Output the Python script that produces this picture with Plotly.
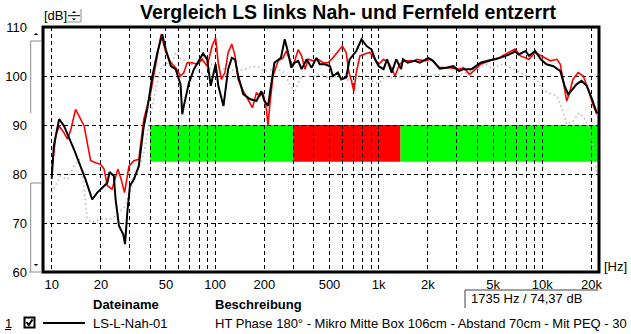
import numpy as np
import plotly.graph_objects as go

# --- measured responses -------------------------------------------------
# LS-L-Nah-01 (black)
nah_freq = [10, 10.3, 11.1, 11.9, 13.7, 15.0, 16.1, 17.7, 19.0, 20.4, 21.9, 22.6, 24.0, 24.6,
            25.8, 27.4, 28.1, 29.0, 30.1, 31.8, 34.1, 36.6, 38.4, 41.3, 44.3, 47.4, 49.9,
            53.6, 57.3, 61.4, 62.9, 64.3, 69.1, 74.1, 81.4, 84.3, 89.3, 93.9, 100.6, 104.5,
            112.4, 120, 126.4, 132.2, 138.2, 148.5, 162.9, 178.7, 191.6, 200.2, 210.4, 217.1,
            230.2, 252.3, 266.2, 279.1, 292.3, 305.3, 322.1, 337.8, 362, 388.6, 416.2, 435.9,
            468, 504, 524, 563, 590, 632, 664, 729, 785, 843, 904, 950, 1000, 1070, 1125,
            1200, 1280, 1370, 1407, 1503, 1660, 1786, 2010, 2150, 2357, 2602, 2860, 3100,
            3300, 3700, 4200, 4780, 5500, 6200, 6820, 7170, 7900, 8300, 9050, 9800, 10600,
            11700, 12900, 13700, 14400, 15000, 16200, 17400, 18700, 20000, 21600]
nah_db = [79.0, 85.7, 91.2, 89.8, 85.0, 81.6, 78.9, 74.8, 76.2, 77.2, 78.2, 80.4, 79.6, 74.8,
          69.4, 67.7, 65.7, 72.1, 77.6, 78.9, 81.6, 89.8, 93.2, 100.0, 104.8, 108.5, 105.4,
          102.0, 101.4, 98.3, 92.2, 93.9, 98.6, 101.4, 103.7, 104.6, 103.4, 98.0, 102.4, 98.0,
          93.9, 101.4, 103.7, 103.4, 100.0, 96.3, 95.3, 94.9, 96.9, 94.9, 93.9, 96.9,
          102.7, 103.7, 107.5, 104.8, 101.7, 102.7, 103.1, 101.4, 103.4, 101.7, 103.7, 102.4,
          102.4, 102.0, 100.0, 100.7, 99.3, 99.7, 103.4, 105.1, 107.5, 106.1, 105.4, 103.4,
          102.0, 101.4, 103.4, 100.7, 103.4, 101.4, 103.4, 102.7, 103.1, 102.7, 103.7, 103.1,
          101.5, 101.7, 102.0, 101.0, 101.4, 101.4, 102.7, 103.2, 103.7, 104.3, 105.0, 104.4,
          105.1, 104.1, 105.1, 103.4, 102.4, 102.0, 101.0, 98.0, 96.3, 96.9, 98.3, 99.0, 98.0,
          95.6, 92.4]

# far field, equalised (red)
fern_freq = [10, 10.6, 11.1, 11.9, 12.5, 13.1, 14.0, 14.7, 15.8, 16.5, 17.3, 18.6, 19.9, 20.9,
             21.9, 23.4, 24.3, 25.4, 26.6, 27.9, 29.7, 31.8, 34.1, 36.6, 40.3, 44.3, 46.7,
             49.9, 53.6, 57.3, 61.4, 64.3, 67.4, 72.3, 77.7, 83.3, 89.3, 95.7, 100.6, 104.4,
             109.2, 114.7, 120, 126.4, 132.2, 138.2, 148.5, 158.8, 169, 178.7, 187.3, 196,
             205.7, 210.4, 215.4, 225.8, 242.6, 260.1, 272.2, 285.2, 299, 322.1, 337.8, 354,
             370, 398, 426, 456.6, 490, 524, 563, 600, 632, 658, 681, 705, 729, 767, 822, 882,
             950, 1000, 1070, 1150, 1260, 1340, 1440, 1660, 1700, 1920, 2080, 2357, 2720,
             3100, 3300, 3450, 3600, 3900, 4200, 4780, 5250, 5700, 6300, 6820, 7370, 7900,
             8300, 9050, 9800, 10300, 11200, 12300, 12900, 13500, 14100, 14700, 15400, 16600,
             17800, 19100, 20400, 21600]
fern_db = [80.5, 87.8, 89.8, 88.4, 87.1, 89.1, 93.2, 91.8, 89.8, 86.4, 82.7, 82.3, 82.0, 81.0,
           77.6, 76.9, 78.9, 81.0, 78.9, 76.2, 81.6, 82.7, 83.0, 91.2, 96.6, 104.0, 108.5,
           104.8, 102.7, 101.7, 100.0, 100.7, 102.7, 102.7, 102.4, 103.4, 102.0, 106.1, 107.8,
           102.7, 99.3, 100.7, 104.8, 106.5, 104.1, 99.3, 96.9, 95.2, 93.5, 96.6, 95.9, 96.6,
           93.2, 89.8, 93.9, 100.0, 103.1, 103.7, 105.1, 103.4, 102.0, 105.4, 104.1, 101.4,
           103.4, 103.1, 103.4, 102.7, 102.7, 103.7, 105.1, 106.1, 104.8, 100.7, 99.0, 96.9,
           100.7, 104.1, 104.5, 104.8, 103.4, 102.4, 103.4, 102.7, 100.0, 102.4, 103.1, 103.1,
           103.4, 103.1, 103.4, 101.7, 101.7, 101.4, 101.7, 101.0, 100.3, 101.4, 102.4, 103.1,
           103.4, 104.1, 104.8, 105.5, 104.1, 103.7, 103.4, 104.8, 104.1, 103.7, 103.1, 103.4,
           102.4, 98.6, 94.9, 96.6, 99.3, 100.7, 100.0, 97.3, 94.2, 92.2]

# reference curve (grey, dotted)
ref_freq = [10, 11.3, 12.5, 13.7, 14.7, 15.4, 16.5, 17.7, 19.9, 22.9, 24.6, 26.4, 28.3, 30.4,
            33.4, 36.6, 40.3, 43.2, 46.3, 49.9, 53.6, 57.3, 61.4, 67.4, 74.1, 81.4, 89.3, 95,
            105, 120, 140, 160, 180, 200, 230, 260, 290, 305, 330, 360, 400, 450, 500, 560,
            620, 700, 800, 900, 1000, 1100, 1250, 1400, 1600, 1800, 2000, 2300, 2700, 3000,
            3500, 4000, 4500, 5000, 5500, 6200, 7000, 8000, 9200, 10000, 11000, 12300, 13500,
            14100, 15400, 16900, 18200, 19400, 20500, 21600]
ref_db = [76.2, 79.6, 78.9, 81.6, 83.0, 80.3, 70.8, 70.1, 70.8, 70.8, 71.4, 72.4, 73.5, 76.9,
          80.3, 84.3, 91.8, 97.3, 101.4, 102.7, 102.0, 104.8, 103.4, 103.1, 102.0, 100.7,
          100.0, 102.4, 101.7, 101.4, 101.0, 101.7, 102.0, 101.0, 101.4, 101.0, 98.0, 96.5,
          99.5, 100.0, 100.0, 100.3, 99.5, 100.0, 99.3, 99.0, 100.7, 99.0, 98.5, 100.0, 99.5,
          100.0, 99.7, 100.3, 100.0, 100.3, 100.0, 100.3, 100.7, 101.7, 102.4, 101.4, 102.4,
          102.0, 101.0, 100.0, 99.3, 97.3, 96.5, 95.9, 92.5, 90.1, 90.8, 92.5, 91.2, 89.1,
          85.7, 80.0]

# evaluation band below the curves
band_top_db = 90.0
band_bottom_db = 82.5
band_edges_hz = [40, 300, 1360, 22240]
band_colors = ["#00ff00", "#ff0000", "#00ff00"]

# axes
f_min, f_max = 8.85, 22240
db_min, db_max = 60, 110
x_grid = [m * 10 ** e for e in range(1, 4) for m in range(1, 10)] + [10000, 20000]
x_labels = {10: "10", 20: "20", 50: "50", 100: "100", 200: "200", 500: "500",
            1000: "1k", 2000: "2k", 5000: "5k", 10000: "10k", 20000: "20k"}
y_ticks = [60, 70, 80, 90, 100, 110]

readout = "1735 Hz / 74,37 dB"
col_file = "Dateiname"
col_desc = "Beschreibung"
row_file = "LS-L-Nah-01"
row_desc = "HT Phase 180° - Mikro Mitte Box 106cm - Abstand 70cm - Mit PEQ - 30"

# --- page geometry --------------------------------------------------------
W, H = 631, 334
L, R, T, B = 43, 599, 27, 272
FONT = "Arial, Liberation Sans, sans-serif"


def px(x):
    return (x - L) / (R - L)


def py(y):
    return (B - y) / (B - T)


fig = go.Figure()

fig.add_trace(go.Scatter(x=ref_freq, y=ref_db, mode="lines",
                         line=dict(color="#b4b4b4", width=1.5, dash="1.5px,3px"),
                         hoverinfo="skip"))
fig.add_trace(go.Scatter(x=fern_freq, y=fern_db, mode="lines",
                         line=dict(color="#ff0000", width=1.6), hoverinfo="skip"))
fig.add_trace(go.Scatter(x=nah_freq, y=nah_db, mode="lines",
                         line=dict(color="#000000", width=2), hoverinfo="skip"))

shapes = []
for (f0, f1), c in zip(zip(band_edges_hz[:-1], band_edges_hz[1:]), band_colors):
    shapes.append(dict(type="rect", xref="x", yref="y", x0=f0, x1=f1,
                       y0=band_bottom_db, y1=band_top_db, fillcolor=c,
                       line=dict(width=0), layer="below"))

# heavy frame round the plot area
shapes.append(dict(type="rect", xref="paper", yref="paper", x0=0, x1=1, y0=0, y1=1,
                   line=dict(color="black", width=3), layer="above"))

# scroll brackets left of the dB scale
grey = "#8c8c8c"
for (xa, ya), (xb, yb) in [((30.7, 41), (42, 41)), ((30.7, 41), (30.7, 113)),
                           ((30.7, 183), (42, 183)), ((30.7, 183), (30.7, 272)),
                           ((29, 272), (42, 272))]:
    shapes.append(dict(type="line", xref="paper", yref="paper",
                       x0=px(xa), y0=py(ya), x1=px(xb), y1=py(yb),
                       line=dict(color=grey, width=1)))


def tri(cx, cy, up, s=2.5):
    d = -s if up else s
    return (f"M {px(cx - s)} {py(cy - d / 2)} L {px(cx + s)} {py(cy - d / 2)} "
            f"L {px(cx)} {py(cy + d / 2)} Z")


for cx, cy, up in [(36, 34, True), (36, 265, False), (74, 12, True), (74, 19.5, False)]:
    shapes.append(dict(type="path", xref="paper", yref="paper", path=tri(cx, cy, up, 2.2),
                       fillcolor="black", line=dict(width=0)))
# spinner next to [dB]
shapes.append(dict(type="line", xref="paper", yref="paper", x0=px(68), x1=px(80),
                   y0=py(15.7), y1=py(15.7), line=dict(color="black", width=1)))
shapes.append(dict(type="line", xref="paper", yref="paper", x0=px(67), x1=px(81),
                   y0=py(22), y1=py(22), line=dict(color=grey, width=1)))
shapes.append(dict(type="line", xref="paper", yref="paper", x0=px(81), x1=px(81),
                   y0=py(9), y1=py(22), line=dict(color=grey, width=1)))

# readout panel edges
shapes.append(dict(type="line", xref="paper", yref="paper", x0=px(465), x1=px(598),
                   y0=py(290), y1=py(290), line=dict(color="#404040", width=1)))
shapes.append(dict(type="line", xref="paper", yref="paper", x0=px(465), x1=px(465),
                   y0=py(290), y1=py(308), line=dict(color="#404040", width=1)))

# legend row: check box, tick and line sample
shapes.append(dict(type="rect", xref="paper", yref="paper", x0=px(24.5), x1=px(34.5),
                   y0=py(317.5), y1=py(327.5), line=dict(color="black", width=2)))
shapes.append(dict(type="path", xref="paper", yref="paper",
                   path=f"M {px(26.5)} {py(322)} L {px(28.8)} {py(325)} L {px(32.5)} {py(319.5)}",
                   line=dict(color="black", width=2)))
shapes.append(dict(type="line", xref="paper", yref="paper", x0=px(43), x1=px(85),
                   y0=py(323), y1=py(323), line=dict(color="black", width=2)))
shapes.append(dict(type="line", xref="paper", yref="paper", x0=px(5), x1=px(11),
                   y0=py(329.5), y1=py(329.5), line=dict(color="black", width=1)))

annotations = []


def text(x, y, s, size=13, xanchor="left", bold=False):
    annotations.append(dict(xref="paper", yref="paper", x=px(x), y=py(y), text=s,
                            showarrow=False, xanchor=xanchor, yanchor="middle",
                            font=dict(family=FONT, size=size, color="black",
                                      weight="bold" if bold else "normal")))


text(348, 12, "Vergleich LS links Nah- und Fernfeld entzerrt", size=19.5,
     xanchor="center", bold=True)
text(42, 16, "[dB]")
text(602, 266, "[Hz]")
text(469, 298, readout)
text(91, 304, col_file, bold=True)
text(213, 304, col_desc, bold=True)
text(3, 323, "1")
text(91, 323, row_file)
text(213, 323, row_desc)

fig.update_layout(
    width=W, height=H,
    margin=dict(l=L, r=W - R, t=T, b=H - B, pad=0, autoexpand=False),
    paper_bgcolor="white", plot_bgcolor="white",
    showlegend=False,
    font=dict(family=FONT, size=13, color="black"),
    shapes=shapes, annotations=annotations,
    xaxis=dict(type="log", range=[np.log10(f_min), np.log10(f_max)],
               tickmode="array", tickvals=x_grid,
               ticktext=[x_labels.get(v, "") for v in x_grid],
               showgrid=True, gridcolor="black", gridwidth=1, griddash="4px,3px",
               zeroline=False, showline=False, ticks="", ticklabelstandoff=3,
               automargin=False, tickfont=dict(family=FONT, size=13)),
    yaxis=dict(range=[db_min, db_max], tickmode="array", tickvals=y_ticks,
               showgrid=True, gridcolor="black", gridwidth=1, griddash="4px,3px",
               zeroline=False, showline=False, ticks="", ticklabelstandoff=15,
               automargin=False, tickfont=dict(family=FONT, size=13)),
)

fig.write_html("out.html")
